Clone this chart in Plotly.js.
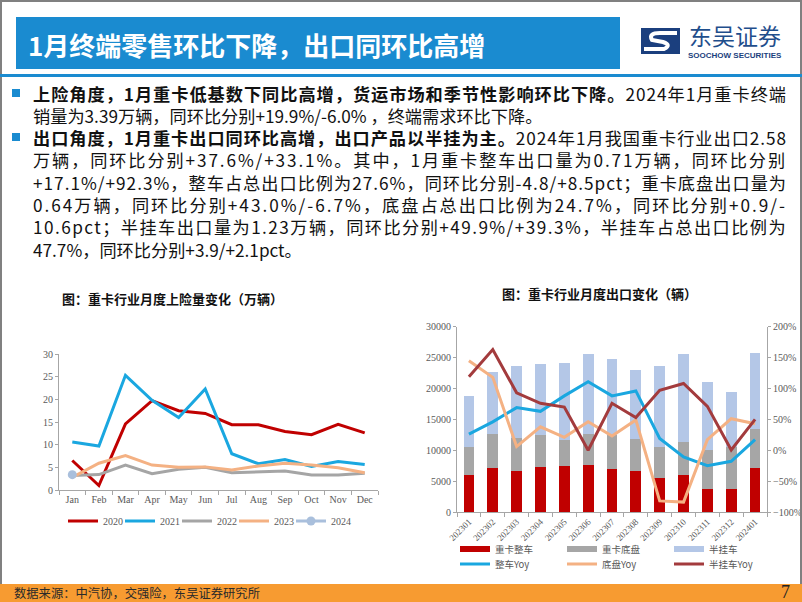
<!DOCTYPE html>
<html><head><meta charset="utf-8">
<script src="https://cdn.plot.ly/plotly-3.0.1.min.js"></script>
<style>html,body{margin:0;padding:0;background:#fff;} #chart{width:802px;height:602px;}</style>
</head><body><div id="chart"></div>
<script>
// ---------- Left chart: monthly heavy-truck insurance registrations (10k units)
const months = ['Jan','Feb','Mar','Apr','May','Jun','Jul','Aug','Sep','Oct','Nov','Dec'];
const reg2020 = [6.5, 1.0, 14.6, 19.7, 17.5, 16.9, 14.4, 14.4, 12.9, 12.2, 14.5, 12.6];
const reg2021 = [10.6, 9.7, 25.3, 19.8, 16.0, 22.3, 8.0, 5.8, 6.7, 5.2, 6.3, 5.6];
const reg2022 = [3.2, 3.4, 5.5, 3.6, 4.6, 5.0, 3.8, 4.0, 4.2, 3.3, 3.3, 3.7];
const reg2023 = [2.8, 5.9, 7.6, 5.5, 5.0, 5.1, 4.4, 5.3, 5.9, 5.5, 4.9, 3.8];
const reg2024 = [3.39, null, null, null, null, null, null, null, null, null, null, null];
const yearNames = ['2020','2021','2022','2023','2024'];

// ---------- Right chart: monthly heavy-truck exports (units) and YoY (%)
const exportMonths = ['202301','202302','202303','202304','202305','202306','202307','202308','202309','202310','202311','202312','202401'];
const wholeTruck  = [6060, 7150, 6570, 7270, 7380, 7540, 6900, 6700, 5500, 5950, 3700, 3690, 7100];
const chassis     = [4480, 5400, 5380, 5230, 4200, 5110, 5500, 5100, 5100, 5350, 6400, 6860, 6400];
const semiTrailer = [8210, 10050, 11750, 11400, 12620, 12950, 12400, 11200, 13100, 14200, 11000, 8830, 12300];
const wholeYoy    = [26, 46, 69, 63, 88, 111, 88, 96, 19, -11, -25, -18, 17.1];
const chassisYoy  = [145, 118, 6, 38, 21, 46, 23, 49, -82, -84, 17, 51, 43.0];
const semiYoy     = [119, 163, 93, 76, 70, 0, 76, 53, 97, 108, 71, 0.5, 49.9];
const exportNames = ['重卡整车','重卡底盘','半挂车','整车Yoy','底盘Yoy','半挂车Yoy'];

// ---------- Text (paragraphs; each line: [bold part, normal part, justify])
const pageTitle = '1月终端零售环比下降，出口同环比高增';
const paragraph1 = [
  ['上险角度，1月重卡低基数下同比高增，货运市场和季节性影响环比下降。', '2024年1月重卡终端', true],
  ['', '销量为3.39万辆，同环比分别+19.9%/-6.0% ，终端需求环比下降。', false]
];
const paragraph2 = [
  ['出口角度，1月重卡出口同环比高增，出口产品以半挂为主。', '2024年1月我国重卡行业出口2.58', true],
  ['', '万辆，同环比分别+37.6%/+33.1%。其中，1月重卡整车出口量为0.71万辆，同环比分别', true],
  ['', '+17.1%/+92.3%，整车占总出口比例为27.6%，同环比分别-4.8/+8.5pct；重卡底盘出口量为', true],
  ['', '0.64万辆，同环比分别+43.0%/-6.7%，底盘占总出口比例为24.7%，同环比分别+0.9/-', true],
  ['', '10.6pct；半挂车出口量为1.23万辆，同环比分别+49.9%/+39.3%，半挂车占总出口比例为', true],
  ['', '47.7%，同环比分别+3.9/+2.1pct。', false]
];
const leftTitle = '图：重卡行业月度上险量变化（万辆）';
const rightTitle = '图：重卡行业月度出口变化（辆）';
const sourceText = '数据来源：中汽协，交强险，东吴证券研究所';
const pageNo = '7';

// ---------- helpers
const W = 802, H = 602;
const px = x => x / W, py = y => 1 - y / H;
const SERIF = 'Liberation Serif, Times New Roman, serif';
const CJK = 'Noto Sans CJK SC, sans-serif';
const tickGray = '#595959';
const BODY_SIZE = 17.2, BODY_LEFT = 31, BODY_RIGHT = 785, LINE_STEP = 22.4, FIRST_LINE_Y = 93;

const ctx = document.createElement('canvas').getContext('2d');
function textWidth(s, bold) {
  ctx.font = (bold ? 'bold ' : '') + BODY_SIZE + 'px "Noto Sans CJK SC"';
  return ctx.measureText(s).width;
}
function lineHtml(parts) {
  const [b, n, justify] = parts;
  let ls = 0;
  if (justify) {
    const w = textWidth(b, true) + textWidth(n, false);
    ls = Math.max(0, (BODY_RIGHT - BODY_LEFT - w) / (b + n).length);
  }
  let html = '';
  if (b) html += `<span style="font-weight:bold;letter-spacing:${ls.toFixed(3)}px">${b}</span>`;
  if (n) html += `<span style="letter-spacing:${ls.toFixed(3)}px">${n}</span>`;
  return html;
}

const traces = [];
const leftColors = ['#C00000', '#1AA7E0', '#A5A5A5', '#F4B183', '#A9BFDC'];
const leftLegendIds = ['legend', 'legend4', 'legend5', 'legend6', 'legend7'];
[reg2020, reg2021, reg2022, reg2023, reg2024].forEach((arr, i) => {
  const t = {type:'scatter', mode:'lines', x: months, y: arr, name: yearNames[i],
    line:{color: leftColors[i], width: 3}, xaxis:'x', yaxis:'y', legend: leftLegendIds[i]};
  if (i === 4) { t.mode = 'lines+markers'; t.marker = {color: leftColors[i], size: 9}; }
  traces.push(t);
});

const barColors = ['#C00000', '#A6A6A6', '#B4C7E7'];
[wholeTruck, chassis, semiTrailer].forEach((arr, i) => {
  traces.push({type:'bar', x: exportMonths, y: arr, name: exportNames[i], marker:{color: barColors[i]},
    xaxis:'x2', yaxis:'y2', showlegend:false});
});
const lineColors = ['#1AA7E0', '#F4B183', '#A33B3D'];
[wholeYoy, chassisYoy, semiYoy].forEach((arr, i) => {
  traces.push({type:'scatter', mode:'lines', x: exportMonths, y: arr, name: exportNames[3+i],
    line:{color: lineColors[i], width: 3}, xaxis:'x2', yaxis:'y3', showlegend:false});
});
// legend entries for right chart
barColors.forEach((c, i) => {
  traces.push({type:'scatter', mode:'lines', x:[null], y:[null], name: exportNames[i],
    line:{color:c, width:6}, xaxis:'x2', yaxis:'y2', legend:'legend2'});
});
lineColors.forEach((c, i) => {
  traces.push({type:'scatter', mode:'lines', x:[null], y:[null], name: exportNames[3+i],
    line:{color:c, width:3}, xaxis:'x2', yaxis:'y2', legend:'legend3'});
});

const shapes = [
  // page border
  {type:'rect', xref:'paper', yref:'paper', x0:0, x1:1, y0:py(2), y1:1, fillcolor:'#808080', line:{width:0}},
  {type:'rect', xref:'paper', yref:'paper', x0:0, x1:px(2), y0:py(585), y1:1, fillcolor:'#808080', line:{width:0}},
  {type:'rect', xref:'paper', yref:'paper', x0:px(800), x1:1, y0:py(585), y1:1, fillcolor:'#808080', line:{width:0}},
  // title bar
  {type:'rect', xref:'paper', yref:'paper', x0:px(16), x1:px(620), y0:py(69), y1:py(17), fillcolor:'#1A8BD0', line:{width:0}},
  // blue rule
  {type:'rect', xref:'paper', yref:'paper', x0:0, x1:1, y0:py(77), y1:py(74), fillcolor:'#1A8BD0', line:{width:0}},
  // bullets
  {type:'rect', xref:'paper', yref:'paper', x0:px(12), x1:px(20), y0:py(97), y1:py(89), fillcolor:'#1A8BD0', line:{width:0}},
  {type:'rect', xref:'paper', yref:'paper', x0:px(12), x1:px(20), y0:py(141), y1:py(133), fillcolor:'#1A8BD0', line:{width:0}},
  // footer
  {type:'rect', xref:'paper', yref:'paper', x0:0, x1:1, y0:0, y1:py(584), fillcolor:'#F79B31', line:{width:0}},
  // logo
  {type:'rect', xref:'paper', yref:'paper', x0:px(641), x1:px(680), y0:py(54), y1:py(28), fillcolor:'#1B3F7E', line:{width:0}},
  {type:'path', xref:'paper', yref:'paper',
   path:`M${px(677)},${py(33)} L${px(660)},${py(33)} Q${px(648)},${py(33)} ${px(652)},${py(40)} L${px(663)},${py(42)} Q${px(672)},${py(45)} ${px(664)},${py(49)} L${px(644)},${py(49)}`,
   line:{color:'#FFFFFF', width:4}}
];

const annotations = [
  {text: '<b>' + pageTitle + '</b>', x: px(26), y: py(44), xanchor:'left', yanchor:'middle',
   font:{family: CJK, size: 26, color:'#FFFFFF'}},
  {text: '东吴证券', x: px(735), y: py(35), xanchor:'center', yanchor:'middle',
   font:{family: CJK, size: 23, color:'#1F4E8C'}},
  {text: '<b>SOOCHOW SECURITIES</b>', x: px(735), y: py(56), xanchor:'center', yanchor:'middle',
   font:{family: 'Liberation Sans, Arial, sans-serif', size: 8, color:'#1B3F7E'}},
  {text: '<b>' + leftTitle + '</b>', x: px(60), y: py(298), xanchor:'left', yanchor:'middle',
   font:{family: CJK, size: 13, color:'#111111'}},
  {text: '<b>' + rightTitle + '</b>', x: px(599), y: py(293), xanchor:'center', yanchor:'middle',
   font:{family: CJK, size: 13, color:'#111111'}},
  {text: sourceText, x: px(12), y: py(593), xanchor:'left', yanchor:'middle',
   font:{family: CJK, size: 12.3, color:'#2A2A2A'}},
  {text: pageNo, x: px(785), y: py(592), xanchor:'center', yanchor:'middle',
   font:{family: SERIF, size: 18, color:'#222222'}}
];
let lineIndex = 0;
[paragraph1, paragraph2].forEach(par => {
  const firstY = FIRST_LINE_Y + LINE_STEP * lineIndex;
  const midY = firstY + LINE_STEP * (par.length - 1) / 2;
  annotations.push({text: par.map(lineHtml).join('<br>'), x: px(BODY_LEFT), y: py(midY),
    xanchor:'left', yanchor:'middle', align:'left', font:{family: CJK, size: BODY_SIZE, color:'#111111'}});
  lineIndex += par.length;
});
annotations.forEach(a => { a.xref = 'paper'; a.yref = 'paper'; a.showarrow = false; });

const axisCommon = {showgrid:false, zeroline:false, showline:true, linecolor:'#A6A6A6', linewidth:1,
  ticks:'outside', tickcolor:'#A6A6A6', ticklen:4, tickfont:{family: SERIF, size: 10, color: tickGray}, fixedrange:true};
const legendCommon = {orientation:'h', xanchor:'left', yanchor:'middle', traceorder:'normal', bgcolor:'rgba(0,0,0,0)'};

const layout = {
  width: W, height: H, margin:{l:0, r:0, t:0, b:0}, paper_bgcolor:'#FFFFFF', plot_bgcolor:'rgba(0,0,0,0)',
  showlegend: true, hovermode: false, barmode:'stack', bargap: 0.55,
  xaxis: Object.assign({}, axisCommon, {domain:[px(59), px(378)], anchor:'y', type:'category',
    range:[-0.5, 11.5], tickson:'boundaries', tickangle:0}),
  yaxis: Object.assign({}, axisCommon, {domain:[py(490), py(354)], anchor:'x', range:[0, 30], dtick:5, ticklen:3}),
  xaxis2: Object.assign({}, axisCommon, {domain:[px(457), px(767)], anchor:'y2', type:'category',
    range:[-0.5, 12.5], tickson:'boundaries', tickangle:-45, tickfont:{family: SERIF, size: 9, color: tickGray}}),
  yaxis2: Object.assign({}, axisCommon, {domain:[py(512), py(326.7)], anchor:'x2', range:[0, 30000], dtick:5000,
    tickformat:'d', ticklen:3}),
  yaxis3: Object.assign({}, axisCommon, {overlaying:'y2', side:'right', anchor:'x2', range:[-100, 200], dtick:50,
    ticksuffix:'%', ticklen:3}),
  legend2: Object.assign({}, legendCommon, {x: px(455), y: py(549), entrywidth: 62,
    font:{family: CJK, size: 9.5, color: tickGray}}),
  legend3: Object.assign({}, legendCommon, {x: px(455), y: py(564), entrywidth: 62,
    font:{family: CJK, size: 9.5, color: tickGray}}),
  shapes: shapes, annotations: annotations
};
leftLegendIds.forEach((id, i) => {
  layout[id] = Object.assign({}, legendCommon, {x: px(63 + 57 * i), y: py(521),
    font:{family: SERIF, size: 10, color: tickGray}});
});

Plotly.newPlot('chart', traces, layout, {staticPlot:true, displayModeBar:false});
</script></body></html>
